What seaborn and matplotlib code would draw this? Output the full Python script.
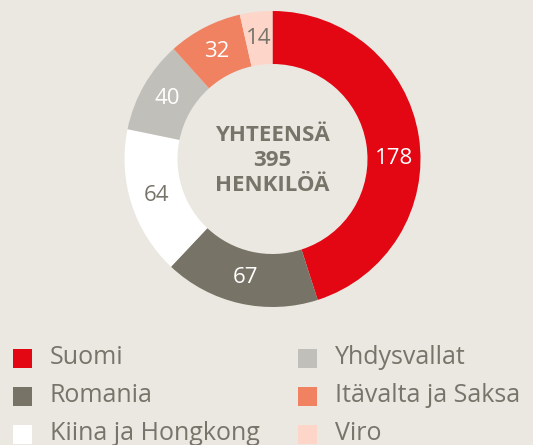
import numpy as np
import matplotlib
matplotlib.use("Agg")
import matplotlib.pyplot as plt
import seaborn as sns
from matplotlib.patches import Rectangle

categories = ["Suomi", "Romania", "Kiina ja Hongkong", "Yhdysvallat", "Itävalta ja Saksa", "Viro"]
values = [178, 67, 64, 40, 32, 14]
colors = ["#E30613", "#777366", "#FFFFFF", "#C0BFB9", "#F08262", "#FDD6C9"]
label_colors = ["white", "white", "#77746A", "white", "white", "#77746A"]
center_lines = ["YHTEENSÄ", "395", "HENKILÖÄ"]

BG = "#EBE7E1"
TXT = "#77746A"

sns.set_theme(style="white")
plt.rcParams["font.family"] = ["Open Sans", "DejaVu Sans"]

W, H = 533, 445
fig = plt.figure(figsize=(W / 100, H / 100), dpi=100, facecolor=BG)

cx, cy, R = 272.5, 159, 148
ax = fig.add_axes([(cx - R) / W, (H - cy - R) / H, 2 * R / W, 2 * R / H])
ax.set_facecolor(BG)

inner = 95 / R
width = 1 - inner
wedges, _ = ax.pie(values, colors=colors, startangle=90, counterclock=False,
                   radius=1, wedgeprops=dict(width=width, linewidth=0))
ax.set_xlim(-1, 1)
ax.set_ylim(-1, 1)
ax.set_aspect("equal")
ax.axis("off")

rmid = 1 - width / 2
for i, (w, v) in enumerate(zip(wedges, values)):
    ang = np.deg2rad((w.theta1 + w.theta2) / 2)
    if i == 0:
        ang = 0.0
    ax.text(rmid * np.cos(ang), rmid * np.sin(ang), str(v), ha="center", va="center",
            fontsize=16, color=label_colors[i])

ax.text(0, -0.01, "\n".join(center_lines), ha="center", va="center", fontsize=16,
        fontweight="bold", color=TXT, linespacing=1.25)

# legend
rows = [358, 396, 434]
cols = [(13, 50), (298, 335)]
sq = 19
for k, idx in enumerate(range(len(categories))):
    c = k // 3
    r = k % 3
    sx, tx = cols[c]
    yc = rows[r]
    fig.patches.append(Rectangle((sx / W, (H - yc - sq / 2) / H), sq / W, sq / H,
                                 transform=fig.transFigure, facecolor=colors[idx],
                                 edgecolor="none"))
    fig.text(tx / W, (H - yc) / H, categories[idx], ha="left", va="center",
             fontsize=18, color=TXT)

fig.savefig("out.png", dpi=100, facecolor=BG)
